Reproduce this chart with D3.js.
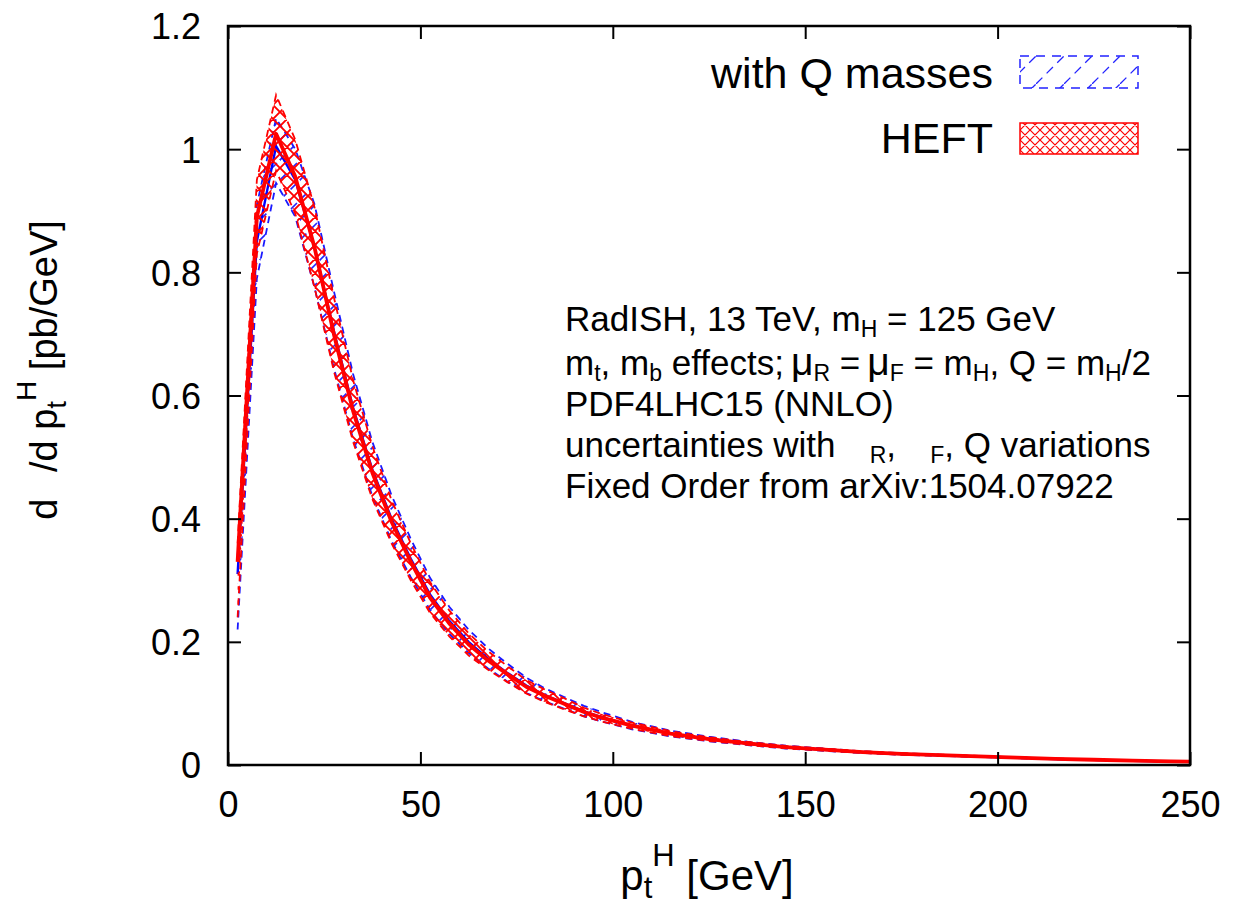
<!DOCTYPE html>
<html>
<head>
<meta charset="utf-8">
<script src="https://cdn.jsdelivr.net/npm/d3@7"></script>
<style>
  html, body { margin: 0; padding: 0; background: #fff; }
  svg { display: block; font-family: "Liberation Sans", Arial, Helvetica, sans-serif; }
</style>
</head>
<body>
<svg id="chart" width="1237" height="905"></svg>
<script>
// ---------------- data ----------------
const ptBins = [2.5, 7.5, 12.5, 17.5, 22.5, 27.5, 32.5, 37.5, 42.5, 47.5, 52.5, 57.5, 62.5, 67.5, 72.5, 77.5, 82.5, 87.5, 92.5, 97.5,
                105, 115, 125, 135, 145, 155, 165, 175, 185, 195, 205, 215, 225, 235, 245, 250];

const heftCentral = [0.33, 0.89, 1.025, 0.955, 0.84, 0.70, 0.575, 0.475, 0.395, 0.33, 0.272, 0.23, 0.196, 0.17, 0.148, 0.127, 0.112, 0.099, 0.086, 0.076,
                     0.064, 0.051, 0.042, 0.035, 0.029, 0.025, 0.021, 0.018, 0.016, 0.014, 0.012, 0.010, 0.0085, 0.0072, 0.006, 0.0055];
const heftLow     = [0.24, 0.83, 0.965, 0.895, 0.775, 0.64, 0.525, 0.432, 0.36, 0.30, 0.247, 0.209, 0.178, 0.155, 0.135, 0.116, 0.102, 0.09, 0.079, 0.07,
                     0.059, 0.047, 0.039, 0.0326, 0.027, 0.0234, 0.0197, 0.0169, 0.0151, 0.0133, 0.0114, 0.0095, 0.0081, 0.0069, 0.0058, 0.0053];
const heftHigh    = [0.36, 0.95, 1.088, 1.015, 0.905, 0.76, 0.625, 0.518, 0.43, 0.36, 0.297, 0.251, 0.214, 0.185, 0.161, 0.138, 0.122, 0.108, 0.093, 0.082,
                     0.069, 0.055, 0.045, 0.0374, 0.031, 0.0266, 0.0223, 0.0191, 0.0169, 0.0147, 0.0126, 0.0105, 0.0089, 0.0075, 0.0062, 0.0057];

const massCentral = [0.31, 0.85, 1.005, 0.95, 0.84, 0.705, 0.58, 0.48, 0.40, 0.335, 0.277, 0.234, 0.20, 0.173, 0.15, 0.129, 0.113, 0.10, 0.087, 0.077,
                     0.064, 0.051, 0.042, 0.035, 0.029, 0.0248, 0.0208, 0.0178, 0.0158, 0.0138, 0.0118, 0.0098, 0.0083, 0.0070, 0.0058, 0.0053];
const massLow     = [0.22, 0.79, 0.945, 0.89, 0.775, 0.645, 0.53, 0.437, 0.364, 0.305, 0.252, 0.213, 0.182, 0.157, 0.136, 0.117, 0.103, 0.091, 0.079, 0.07,
                     0.058, 0.0465, 0.0385, 0.0323, 0.0268, 0.023, 0.0194, 0.0167, 0.0149, 0.013, 0.0112, 0.0093, 0.0079, 0.0067, 0.0056, 0.0051];
const massHigh    = [0.34, 0.91, 1.05, 1.0, 0.91, 0.77, 0.635, 0.525, 0.438, 0.367, 0.304, 0.257, 0.22, 0.19, 0.165, 0.142, 0.124, 0.11, 0.096, 0.085,
                     0.07, 0.0558, 0.046, 0.0378, 0.0313, 0.0266, 0.0222, 0.0189, 0.0167, 0.0146, 0.0124, 0.0103, 0.0087, 0.0073, 0.006, 0.0055];

const xTicks = [0, 50, 100, 150, 200, 250];
const yTicks = [0, 0.2, 0.4, 0.6, 0.8, 1, 1.2];
const legendLabels = ["with Q masses", "HEFT"];

// ---------------- layout ----------------
const svg = d3.select("#chart");
const L = 228, R = 1190, T = 26, B = 765;
const x = d3.scaleLinear().domain([0, 250]).range([L, R]);
const y = d3.scaleLinear().domain([0, 1.2]).range([B, T]);

const defs = svg.append("defs");
function crossPattern(id, s, w) {
  const p = defs.append("pattern").attr("id", id).attr("patternUnits", "userSpaceOnUse")
    .attr("width", s).attr("height", s);
  p.append("path").attr("d", `M0,0 L${s},${s} M${s},0 L0,${s} M-3,${s-3} L3,${s+3} M${s-3},-3 L${s+3},3 M-3,3 L3,-3 M${s-3},${s+3} L${s+3},${s-3}`)
    .attr("stroke", "#ff0000").attr("stroke-width", w).attr("fill", "none");
}
crossPattern("redX", 14, 1.9);
crossPattern("redXleg", 10, 1.2);
function hatchPattern(id, s, w) {
  const p = defs.append("pattern").attr("id", id).attr("patternUnits", "userSpaceOnUse")
    .attr("width", s).attr("height", s);
  p.append("path").attr("d", `M0,${s} L${s},0 M${-s/4},${s/4} L${s/4},${-s/4} M${3*s/4},${5*s/4} L${5*s/4},${3*s/4}`)
    .attr("stroke", "#2222ff").attr("stroke-width", w).attr("fill", "none").attr("stroke-dasharray", "9,6");
}
hatchPattern("blueH", 20, 1.6);
hatchPattern("blueHleg", 28, 1.3);

defs.append("clipPath").attr("id", "plotClip").append("rect")
  .attr("x", L).attr("y", T).attr("width", R - L).attr("height", B - T);

const rows = ptBins.map((p, i) => ({
  p, hc: heftCentral[i], hl: heftLow[i], hh: heftHigh[i],
  mc: massCentral[i], ml: massLow[i], mh: massHigh[i]
}));

const plot = svg.append("g").attr("clip-path", "url(#plotClip)");

const area = (lo, hi) => d3.area().x(d => x(d.p)).y0(d => y(d[lo])).y1(d => y(d[hi]));
const line = key => d3.line().x(d => x(d.p)).y(d => y(d[key]));

// blue band (with Q masses)
plot.append("path").datum(rows).attr("d", area("ml", "mh")).attr("fill", "url(#blueH)").attr("stroke", "none");
["ml", "mh"].forEach(k => plot.append("path").datum(rows).attr("d", line(k))
  .attr("fill", "none").attr("stroke", "#1a1aff").attr("stroke-width", 1.8).attr("stroke-dasharray", "7,5"));
plot.append("path").datum(rows).attr("d", line("mc"))
  .attr("fill", "none").attr("stroke", "#0000ff").attr("stroke-width", 2.4);

// red band (HEFT)
plot.append("path").datum(rows).attr("d", area("hl", "hh")).attr("fill", "url(#redX)").attr("stroke", "none");
["hl", "hh"].forEach(k => plot.append("path").datum(rows).attr("d", line(k))
  .attr("fill", "none").attr("stroke", "#ff0000").attr("stroke-width", 1.8).attr("stroke-dasharray", "7,5"));
plot.append("path").datum(rows).attr("d", line("hc"))
  .attr("fill", "none").attr("stroke", "#ff0000").attr("stroke-width", 3.8).attr("stroke-linejoin", "round");

// ---------------- axes ----------------
const tickFont = 36;
const fmtY = d => String(d);
const gL = svg.append("g").attr("transform", `translate(${L},0)`)
  .call(d3.axisLeft(y).tickValues(yTicks).tickSize(-13).tickPadding(27).tickFormat(fmtY));
const gB = svg.append("g").attr("transform", `translate(0,${B})`)
  .call(d3.axisBottom(x).tickValues(xTicks).tickSize(-13).tickPadding(26));
const gT = svg.append("g").attr("transform", `translate(0,${T})`)
  .call(d3.axisTop(x).tickValues(xTicks).tickSize(-13).tickFormat(""));
const gR = svg.append("g").attr("transform", `translate(${R},0)`)
  .call(d3.axisRight(y).tickValues(yTicks).tickSize(-13).tickFormat(""));
[gL, gB, gT, gR].forEach(g => {
  g.select(".domain").remove();
  g.selectAll(".tick line").attr("stroke", "#000").attr("stroke-width", 2);
  g.selectAll(".tick text").attr("font-size", tickFont).attr("fill", "#000")
    .attr("font-family", "Liberation Sans, Arial, sans-serif");
});
gL.selectAll(".tick text").attr("dy", "0.36em");

svg.append("rect").attr("x", L).attr("y", T).attr("width", R - L).attr("height", B - T)
  .attr("fill", "none").attr("stroke", "#000").attr("stroke-width", 2.5);

// ---------------- axis labels ----------------
const xl = svg.append("text").attr("x", 707).attr("y", 890).attr("text-anchor", "middle")
  .attr("font-size", 42).attr("fill", "#000");
xl.append("tspan").text("p");
xl.append("tspan").attr("font-size", 31).attr("dy", 8).text("t");
xl.append("tspan").attr("font-size", 31).attr("dy", -32).text("H");
xl.append("tspan").attr("dy", 24).text(" [GeV]");

const yl = svg.append("text").attr("transform", "translate(57,370) rotate(-90)").attr("text-anchor", "middle")
  .attr("font-size", 38).attr("fill", "#000");
yl.append("tspan").text("d\u2002\u2009/d p");
yl.append("tspan").attr("font-size", 28).attr("dy", 9).text("t");
yl.append("tspan").attr("font-size", 28).attr("dy", -30).text("H");
yl.append("tspan").attr("dy", 21).text(" [pb/GeV]");

// ---------------- legend ----------------
const legFont = 43;
svg.append("text").attr("x", 993).attr("y", 88).attr("text-anchor", "end").attr("font-size", legFont).text(legendLabels[0]);
svg.append("rect").attr("x", 1020).attr("y", 56).attr("width", 118).attr("height", 32)
  .attr("fill", "url(#blueHleg)").attr("stroke", "#2222ff").attr("stroke-width", 1.5).attr("stroke-dasharray", "9,7");
svg.append("text").attr("x", 993).attr("y", 153).attr("text-anchor", "end").attr("font-size", legFont).text(legendLabels[1]);
svg.append("rect").attr("x", 1020).attr("y", 123).attr("width", 118).attr("height", 31)
  .attr("fill", "url(#redXleg)").attr("stroke", "#ff0000").attr("stroke-width", 1.5);

// ---------------- annotation ----------------
const annX = 565, annFont = 35, subFont = 23;
const ann = svg.append("g").attr("font-size", annFont).attr("fill", "#000");
function addLine(yb, parts) {
  const t = ann.append("text").attr("x", annX).attr("y", yb);
  let shift = 0;
  parts.forEach(p => {
    const s = t.append("tspan").text(p.t);
    if (p.sub) { s.attr("font-size", subFont).attr("dy", 6 - shift); shift = 6; }
    else { s.attr("dy", -shift); shift = 0; if (p.big) s.attr("font-size", 39); }
  });
}
addLine(331, [{t: "RadISH, 13 TeV, m"}, {t: "H", sub: 1}, {t: " = 125 GeV"}]);
addLine(375, [{t: "m"}, {t: "t", sub: 1}, {t: ", m"}, {t: "b", sub: 1}, {t: " effects;\u2009"}, {t: "\u03bc", big: 1}, {t: "R", sub: 1},
              {t: " =\u2009"}, {t: "\u03bc", big: 1}, {t: "F", sub: 1}, {t: " = m"}, {t: "H", sub: 1}, {t: ", Q = m"}, {t: "H", sub: 1}, {t: "/2"}]);
addLine(416, [{t: "PDF4LHC15 (NNLO)"}]);
addLine(457, [{t: "uncertainties with\u00a0\u2002\u2009"}, {t: "R", sub: 1}, {t: ",\u00a0\u2002\u2009"}, {t: "F", sub: 1}, {t: ", Q variations"}]);
addLine(498, [{t: "Fixed Order from arXiv:1504.07922"}]);
</script>
</body>
</html>
